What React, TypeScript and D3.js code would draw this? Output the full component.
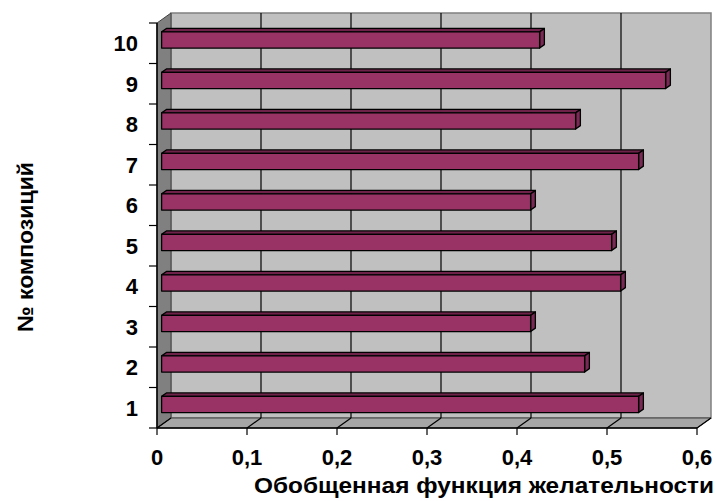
import React from "react";
import * as d3 from "d3";

const categories = ["1", "2", "3", "4", "5", "6", "7", "8", "9", "10"];
const values = [0.53, 0.47, 0.41, 0.51, 0.5, 0.41, 0.53, 0.46, 0.56, 0.42];
const xTicks = [0, 0.1, 0.2, 0.3, 0.4, 0.5, 0.6];
const xTickLabels = ["0", "0,1", "0,2", "0,3", "0,4", "0,5", "0,6"];
const xTitle = "Обобщенная функция желательности";
const yTitle = "№ композиций";

const W = 716;
const H = 501;
const DX = 14;
const DY = -10;
const FONT = "'Liberation Sans', Arial, sans-serif";

export default function App() {
  const x = d3.scaleLinear().domain([0, 0.6]).range([157, 697]);
  const y = d3
    .scaleBand<string>()
    .domain([...categories].reverse())
    .range([23, 428])
    .paddingInner(0)
    .paddingOuter(0);
  const bw = y.bandwidth();
  const barH = bw / 2.5;
  const f1 = 0.33;
  const f2 = 0.67;
  const x0 = x(0);
  const yTop = y.range()[0];
  const yBot = y.range()[1];

  const pts = (arr: [number, number][]) => arr.map((p) => p.join(",")).join(" ");

  return (
    <svg width={W} height={H} style={{ display: "block", position: "absolute", left: 0, top: 0 }}>
      <rect x={0} y={0} width={W} height={H} fill="#ffffff" />
      {/* back wall */}
      <rect
        x={x0 + DX}
        y={yTop + DY}
        width={x(0.6) - x0}
        height={yBot - yTop}
        fill="#c0c0c0"
        stroke="#808080"
        strokeWidth={1.5}
      />
      {/* left wall */}
      <polygon
        points={pts([
          [x0, yTop],
          [x0 + DX, yTop + DY],
          [x0 + DX, yBot + DY],
          [x0, yBot],
        ])}
        fill="#808080"
        stroke="#404040"
        strokeWidth={1}
      />
      {/* floor */}
      <polygon
        points={pts([
          [x0, yBot],
          [x(0.6), yBot],
          [x(0.6) + DX, yBot + DY],
          [x0 + DX, yBot + DY],
        ])}
        fill="#a6a6a6"
        stroke="#404040"
        strokeWidth={1}
      />
      {/* gridlines */}
      {xTicks.slice(1, -1).map((t) => (
        <g key={"g" + t}>
          <line x1={x(t) + DX} x2={x(t) + DX} y1={yTop + DY} y2={yBot + DY} stroke="#000" strokeWidth={1.2} />
          <line x1={x(t)} x2={x(t) + DX} y1={yBot} y2={yBot + DY} stroke="#000" strokeWidth={1.2} />
        </g>
      ))}
      <line x1={x0} x2={x0 + DX} y1={yBot} y2={yBot + DY} stroke="#000" strokeWidth={1.2} />
      <line x1={x(0.6)} x2={x(0.6) + DX} y1={yBot} y2={yBot + DY} stroke="#000" strokeWidth={1.2} />
      {/* axes lines */}
      <line x1={x0} x2={x0} y1={yTop} y2={yBot} stroke="#000" strokeWidth={1.5} />
      <line x1={x0} x2={x(0.6)} y1={yBot} y2={yBot} stroke="#000" strokeWidth={1.5} />
      {/* y ticks */}
      {d3.range(categories.length + 1).map((i) => {
        const yy = yTop + i * bw;
        return <line key={"yt" + i} x1={x0 - 8} x2={x0} y1={yy} y2={yy} stroke="#000" strokeWidth={1.2} />;
      })}
      {/* x ticks */}
      {xTicks.map((t) => (
        <line key={"xt" + t} x1={x(t)} x2={x(t)} y1={yBot} y2={yBot + 7} stroke="#000" strokeWidth={1.2} />
      ))}
      {/* bars */}
      {categories.map((c, i) => {
        const v = values[i];
        const cy = (y(c) as number) + bw / 2;
        const ox1 = DX * f1, oy1 = DY * f1, ox2 = DX * f2, oy2 = DY * f2;
        const l = x0 + ox1;
        const r = x(v) + ox1;
        const t = cy - barH / 2 + oy1;
        const b = cy + barH / 2 + oy1;
        const ddx = ox2 - ox1, ddy = oy2 - oy1;
        return (
          <g key={"b" + c} stroke="#000" strokeWidth={1.3} strokeLinejoin="round">
            <polygon
              points={pts([
                [l, t],
                [r, t],
                [r + ddx, t + ddy],
                [l + ddx, t + ddy],
              ])}
              fill="#6e2249"
            />
            <polygon
              points={pts([
                [r, t],
                [r + ddx, t + ddy],
                [r + ddx, b + ddy],
                [r, b],
              ])}
              fill="#7a2a55"
            />
            <rect x={l} y={t} width={r - l} height={b - t} fill="#993366" />
          </g>
        );
      })}
      {/* y tick labels */}
      {categories.map((c) => (
        <text
          key={"yl" + c}
          x={138}
          y={(y(c) as number) + bw / 2 + 8}
          textAnchor="end"
          fontFamily={FONT}
          fontWeight="bold"
          fontSize={22}
          fill="#000"
        >
          {c}
        </text>
      ))}
      {/* x tick labels */}
      {xTicks.map((t, i) => (
        <text
          key={"xl" + t}
          x={x(t)}
          y={465}
          textAnchor="middle"
          fontFamily={FONT}
          fontWeight="bold"
          fontSize={22}
          fill="#000"
        >
          {xTickLabels[i]}
        </text>
      ))}
      <text
        x={484}
        y={493}
        textAnchor="middle"
        fontFamily={FONT}
        fontWeight="bold"
        fontSize={22}
        textLength={460}
        lengthAdjust="spacingAndGlyphs"
        fill="#000"
      >
        {xTitle}
      </text>
      <text
        transform={`translate(33,247) rotate(-90)`}
        textAnchor="middle"
        fontFamily={FONT}
        fontWeight="bold"
        fontSize={22}
        textLength={170}
        lengthAdjust="spacingAndGlyphs"
        fill="#000"
      >
        {yTitle}
      </text>
    </svg>
  );
}
